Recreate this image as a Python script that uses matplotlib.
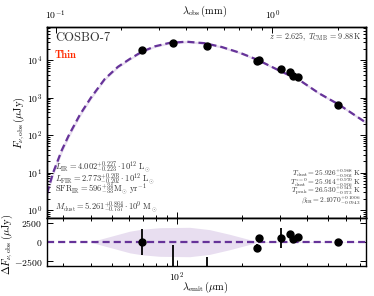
import numpy as np
import matplotlib
matplotlib.use("Agg")
import matplotlib.pyplot as plt
from matplotlib.ticker import LogLocator, NullFormatter, FixedLocator

plt.rcParams.update({
    "font.family": "cmr10",
    "mathtext.fontset": "cm",
    "axes.formatter.use_mathtext": True,
    "axes.unicode_minus": True,
})

Z = 2.625
T_CMB = 9.88

# photometry (observed frame)
lam_obs_mm = [0.25, 0.35, 0.5, 0.85, 0.87, 1.1, 1.2, 1.25, 1.32, 2.0]
flux_ujy = [18500, 28500, 23600, 9400, 10300, 5750, 4800, 3740, 3500, 630]
resid_ujy = [0, -3600, -4000, -770, 510, 500, 1000, 400, 650, 0]
resid_err = [1700, 3200, 2100, 500, 350, 1300, 450, 300, 300, 150]

# best-fit model curve (rest-frame wavelength, microJy)
model_lam_emit = [25.2, 26.9, 29.5, 31.8, 35.8, 40.2, 46.6, 53.5, 60.7, 68.9, 79.1,
                  92.7, 111, 134.3, 160.8, 194.6, 235.3, 297, 367, 453.7, 560, 746]
model_flux = [2.8, 10, 39.8, 100, 355, 1000, 3160, 6600, 10700, 16600, 23200,
              28800, 30900, 28200, 22400, 15800, 10200, 5250, 2950, 1290, 646, 214]
model_band_dex = [0.10, 0.09, 0.08, 0.07, 0.06, 0.05, 0.04, 0.035, 0.03, 0.03, 0.03,
                  0.03, 0.03, 0.03, 0.03, 0.03, 0.03, 0.03, 0.03, 0.03, 0.03, 0.03]

# residual uncertainty band
band_lam_emit = [25.2, 39.7, 49.1, 60.7, 68.9, 83.4, 114.6, 141.6, 175, 235, 746]
band_half = [0, 0, 700, 1400, 1650, 1850, 1900, 1600, 1000, 50, 30]

LINE_C = "#663399"
BAND_C = "#e8def0"
TXT_C = "0.2"

lam_emit_pts = np.array(lam_obs_mm) * 1000.0 / (1 + Z)
m_lam = np.array(model_lam_emit)
m_flux = np.array(model_flux)
m_dex = np.array(model_band_dex)

fig = plt.figure(figsize=(3.74, 2.96), dpi=100)
ax = fig.add_axes([0.1257, 0.2635, 0.853, 0.645])
axr = fig.add_axes([0.1257, 0.1014, 0.853, 0.162], sharex=ax)

xlo, xhi = 25.2, 746
ax.set_xscale("log")
ax.set_yscale("log")
ax.set_xlim(xlo, xhi)
ax.set_ylim(0.612, 7.59e4)

ax.fill_between(m_lam, m_flux * 10 ** (-m_dex), m_flux * 10 ** m_dex,
                color=BAND_C, lw=0, zorder=1)
ax.plot(m_lam, m_flux, color=LINE_C, lw=1.6, ls=(0, (3.2, 1.8)), zorder=2)
ax.plot(lam_emit_pts, flux_ujy, "o", color="black", ms=5, zorder=3)

# residuals
axr.set_ylim(-3100, 3100)
axr.fill_between(band_lam_emit, -np.array(band_half), np.array(band_half),
                 color=BAND_C, lw=0, zorder=1)
axr.axhline(0, color=LINE_C, lw=1.6, ls=(0, (3.2, 1.8)), zorder=2)
axr.errorbar(lam_emit_pts, resid_ujy, yerr=resid_err, fmt="o", color="black",
             ms=5, elinewidth=1.3, capsize=0, zorder=3)
axr.yaxis.set_major_locator(FixedLocator([-2500, 0, 2500]))

# top axis (observed wavelength)
axt = ax.twiny()
axt.set_xscale("log")
axt.set_xlim(xlo * (1 + Z) / 1000, xhi * (1 + Z) / 1000)

for a in (ax, axr, axt):
    a.tick_params(which="both", direction="in", labelsize=7, width=0.7)
    a.tick_params(which="major", length=4)
    a.tick_params(which="minor", length=2)
    for s in a.spines.values():
        s.set_linewidth(1.0)

ax.tick_params(which="both", top=False, right=True, labelbottom=False)
axt.tick_params(which="both", top=True, bottom=False, labeltop=True, labelbottom=False)
axr.tick_params(which="both", top=True, right=True)
ax.yaxis.set_minor_locator(LogLocator(base=10, subs=np.arange(2, 10), numticks=20))
ax.yaxis.set_minor_formatter(NullFormatter())
axr.xaxis.set_minor_formatter(NullFormatter())
axt.xaxis.set_minor_formatter(NullFormatter())

ax.set_ylabel(r"$F_{\nu,\mathrm{obs}}\,(\mu\mathrm{Jy})$", fontsize=7.5)
ax.yaxis.set_label_coords(-0.062, 0.5)
axr.set_ylabel(r"$\Delta F_{\nu,\mathrm{obs}}\,(\mu\mathrm{Jy})$", fontsize=7.5)
axr.yaxis.set_label_coords(-0.10, 0.45)
axt.set_xlabel(r"$\lambda_{\mathrm{obs}}\,(\mathrm{mm})$", fontsize=7.5)
axt.xaxis.set_label_coords(0.495, 1.07)
axr.set_xlabel(r"$\lambda_{\mathrm{emit}}\,(\mu\mathrm{m})$", fontsize=7.5)
axr.xaxis.set_label_coords(0.495, -0.29)

# annotations
ax.text(0.025, 0.942, "COSBO-7", transform=ax.transAxes, fontsize=9,
        color=TXT_C, va="center", ha="left")
ax.text(0.025, 0.853, "Thin", transform=ax.transAxes, fontsize=7.5,
        color="#ff2a00", va="center", ha="left", family="cmb10")
ax.text(0.987, 0.948, r"$z\,=\,2.625,\;T_{\mathrm{CMB}}\,=\,9.88\,\mathrm{K}$",
        transform=ax.transAxes, fontsize=5.8, color=TXT_C, ha="right", va="center")

left_lines = [
    (0.267, r"$L_{\mathrm{IR}}=4.002^{+0.227}_{-0.223}\cdot 10^{12}\ \mathrm{L}_{\odot}$"),
    (0.206, r"$L_{\mathrm{FIR}}=2.773^{+0.203}_{-0.202}\cdot 10^{12}\ \mathrm{L}_{\odot}$"),
    (0.150, r"$\mathrm{SFR}_{\mathrm{IR}}=596^{+34}_{-33}\,\mathrm{M}_{\odot}\ \mathrm{yr}^{-1}$"),
    (0.058, r"$M_{\mathrm{dust}}=5.261^{+0.864}_{-0.737}\cdot 10^{9}\ \mathrm{M}_{\odot}$"),
]
for yy, s in left_lines:
    ax.text(0.025, yy, s, transform=ax.transAxes, fontsize=6.1, color=TXT_C,
            ha="left", va="center")

right_lines = [
    (0.234, r"$T_{\mathrm{dust}}=25.926^{+0.968}_{-0.903}\ \mathrm{K}$"),
    (0.186, r"$T_{\mathrm{dust}}^{z=0}=25.914^{+0.970}_{-0.906}\ \mathrm{K}$"),
    (0.139, r"$T_{\mathrm{peak}}=26.530^{+0.543}_{-0.573}\ \mathrm{K}$"),
    (0.092, r"$\beta_{\mathrm{IR}}=2.1070^{+0.1006}_{-0.0943}$"),
]
for yy, s in right_lines:
    ax.text(0.984, yy, s, transform=ax.transAxes, fontsize=5.3, color=TXT_C,
            ha="right", va="center")

fig.savefig("out.png", dpi=100)
